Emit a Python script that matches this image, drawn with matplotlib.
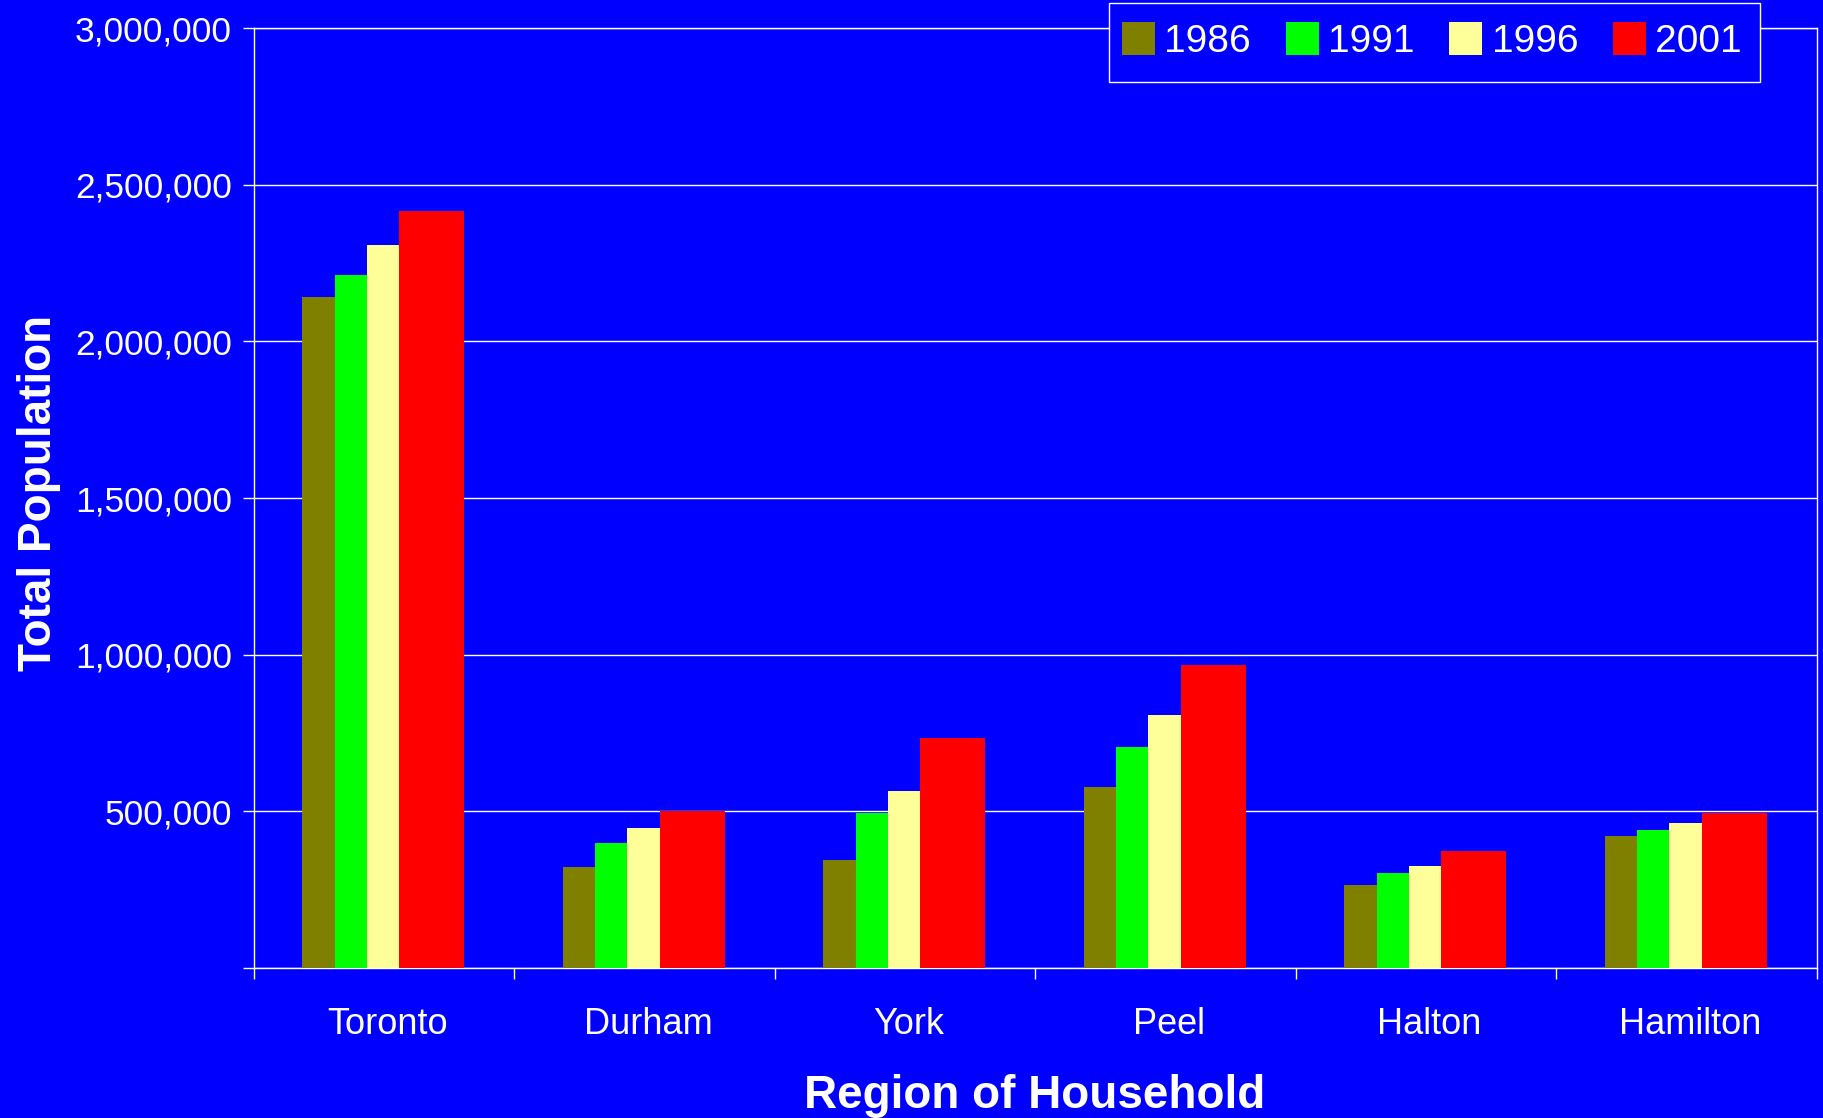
import numpy as np
import matplotlib.pyplot as plt
from matplotlib.patches import Rectangle
from matplotlib.ticker import FuncFormatter, FixedLocator

plt.rcParams['font.family'] = ['Liberation Sans', 'DejaVu Sans']

# Data
regions = ['Toronto', 'Durham', 'York', 'Peel', 'Halton', 'Hamilton']
years = ['1986', '1991', '1996', '2001']
pop_1986 = [2140000, 321000, 345000, 577000, 265000, 422000]
pop_1991 = [2213000, 400000, 495000, 705000, 304000, 441000]
pop_1996 = [2309000, 447000, 565000, 806000, 326000, 463000]
pop_2001 = [2417000, 502000, 734000, 966000, 374000, 495000]
colors = ['#808000', '#00ff00', '#ffff99', '#ff0000']

bg = '#0000ff'
fig = plt.figure(figsize=(18.24, 11.18), dpi=100, facecolor=bg)
ax = fig.add_axes([254 / 1824, 1 - 968 / 1118, 1563 / 1824, 940 / 1118])
ax.set_facecolor(bg)

x = np.arange(len(regions))
w = 0.1245
series = [pop_1986, pop_1991, pop_1996, pop_2001]
offsets = [-2.5, -1.5, -0.5, 0.5]
widths = [1, 1, 1, 2]   # the 2001 bars are drawn twice as wide
for vals, off, mult, col, yr in zip(series, offsets, widths, colors, years):
    ax.bar(x + off * w - 0.004, vals, width=mult * w, align='edge', color=col,
           label=yr, linewidth=0, zorder=3)

ax.set_xlim(-0.5, len(regions) - 0.5)
ax.set_ylim(0, 3000000)
ax.set_yticks(np.arange(0, 3000001, 500000))
ax.yaxis.set_major_formatter(FuncFormatter(lambda v, p: '' if v == 0 else f'{int(v):,}'))
ax.grid(axis='y', color='white', linewidth=1.0, zorder=0)
ax.set_axisbelow(True)

# category labels at centres, ticks at the boundaries
ax.set_xticks(x + 0.012)
ax.set_xticklabels(regions)
ax.xaxis.set_minor_locator(FixedLocator(np.arange(-0.5, len(regions), 1)))
ax.tick_params(axis='x', which='major', length=0, pad=28, labelsize=26, labelcolor='white')
ax.tick_params(axis='x', which='minor', length=8, width=1, color='white', direction='out')
ax.tick_params(axis='y', length=8, width=1, color='white', direction='out', pad=8,
               labelsize=25.5, labelcolor='white')

for s in ax.spines.values():
    s.set_color('white')
    s.set_linewidth(1.0)

fig.text(39 / 1824, 1 - 493 / 1118, 'Total Population', rotation=90, ha='center', va='center',
         fontsize=33, fontweight='bold', color='white')
fig.text(1035 / 1824, 10 / 1118, 'Region of Household', ha='center', va='baseline',
         fontsize=33, fontweight='bold', color='white')

# legend box (taller than matplotlib's own frame would be)
box = Rectangle((1109 / 1824, 1 - 82 / 1118), 651 / 1824, 79 / 1118, transform=fig.transFigure,
                facecolor=bg, edgecolor='white', linewidth=1.0, zorder=1)
fig.patches.append(box)

handles, labels = ax.get_legend_handles_labels()
leg = fig.legend(handles, labels, loc='center left', bbox_to_anchor=(1122 / 1824, 1 - 41 / 1118),
                 ncol=4, fontsize=28, frameon=False,
                 handlelength=0.85, handleheight=0.9, handletextpad=0.24,
                 columnspacing=0.89, borderpad=0, borderaxespad=0)
for t in leg.get_texts():
    t.set_color('white')
leg.set_zorder(5)

plt.savefig('out.png', dpi=100, facecolor=bg)
